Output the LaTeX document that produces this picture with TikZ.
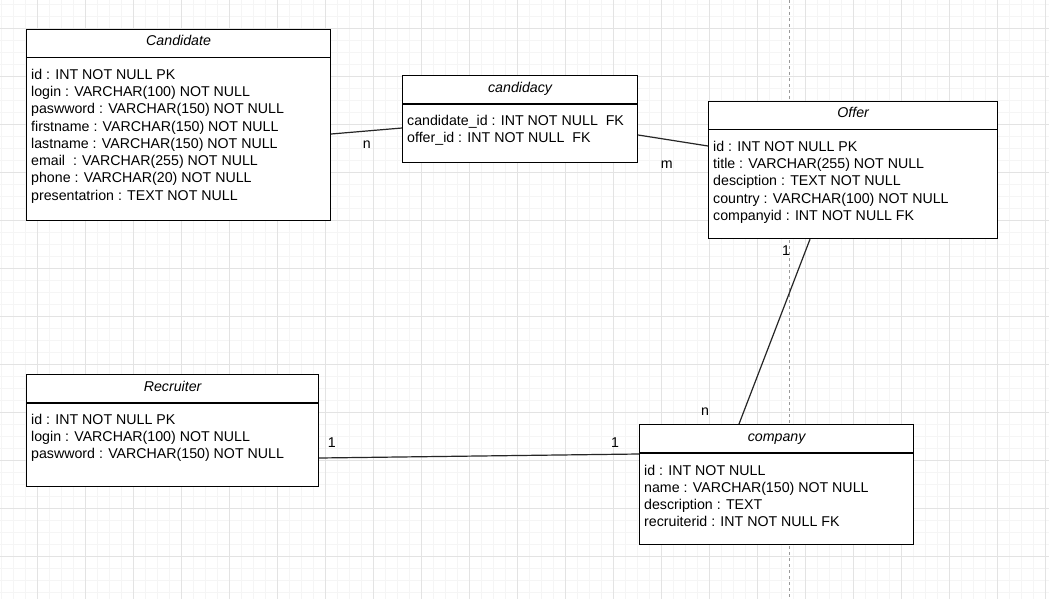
\documentclass[tikz,border=0pt]{standalone}
\usepackage{fontspec}
\setmainfont{Liberation Sans}
\usetikzlibrary{calc}
\begin{document}
\begin{tikzpicture}[x=1pt,y=-1pt,
  minorgrid/.style={draw=black!4,line width=0.7pt},
  majorgrid/.style={draw=black!11,line width=0.7pt},
  pageline/.style={draw=black!40,line width=0.8pt,dash pattern=on 3pt off 3pt},
  entity/.style={draw=black,fill=white,line width=1.2pt,rectangle,inner sep=0pt,anchor=north west},
  divider/.style={draw=black,line width=1.1pt},
  title/.style={font=\fontsize{14.2}{17}\selectfont\itshape,anchor=base,inner sep=0pt},
  field/.style={font=\fontsize{14.2}{17}\selectfont,anchor=base west,inner sep=0pt},
  card/.style={font=\fontsize{14.2}{17}\selectfont,inner sep=0pt},
  link/.style={draw=black!85,line width=1.2pt}]

% canvas and background grid
\useasboundingbox (0,0) rectangle (1049,599);
\fill[white] (0,0) rectangle (1049,599);
\foreach \x in {1,13,...,1049} \draw[minorgrid] (\x,0) -- (\x,599);
\foreach \y in {4,16,...,599} \draw[minorgrid] (0,\y) -- (1049,\y);
\foreach \x in {37,85,...,1049} \draw[majorgrid] (\x,0) -- (\x,599);
\foreach \y in {28,76,...,599} \draw[majorgrid] (0,\y) -- (1049,\y);
\draw[pageline] (789,0) -- (789,599);

% Candidate
\node[entity,minimum width=304pt,minimum height=191pt] (cand) at (26,29) {};
\draw[divider] ($(cand.north west)+(0,28.5)$) -- ($(cand.north east)+(0,28.5)$);
\node[title] (cand-title) at ($(cand.north)+(0,17)$) {Candidate};
\foreach \t [count=\i from 0] in {id : INT NOT NULL PK,
    login : VARCHAR(100) NOT NULL,
    paswword : VARCHAR(150) NOT NULL,
    firstname : VARCHAR(150) NOT NULL,
    lastname : VARCHAR(150) NOT NULL,
    email~ : VARCHAR(255) NOT NULL,
    phone : VARCHAR(20) NOT NULL,
    presentatrion : TEXT NOT NULL}
  \node[field] (cand-f\i) at ($(cand.north west)+(5,{50.3+17.25*\i})$) {\t};

% candidacy
\node[entity,minimum width=235pt,minimum height=87pt] (candy) at (402,75) {};
\draw[divider] ($(candy.north west)+(0,29)$) -- ($(candy.north east)+(0,29)$);
\node[title] (candy-title) at ($(candy.north)+(0,17.5)$) {candidacy};
\foreach \t [count=\i from 0] in {candidate\_id : INT NOT NULL~~FK,
    offer\_id : INT NOT NULL~~FK}
  \node[field] (candy-f\i) at ($(candy.north west)+(5,{50.3+17.25*\i})$) {\t};

% Offer
\node[entity,minimum width=289pt,minimum height=137pt] (offer) at (708,101) {};
\draw[divider] ($(offer.north west)+(0,28.5)$) -- ($(offer.north east)+(0,28.5)$);
\node[title] (offer-title) at ($(offer.north)+(0,17)$) {Offer};
\foreach \t [count=\i from 0] in {id : INT NOT NULL PK,
    title : VARCHAR(255) NOT NULL,
    desciption : TEXT NOT NULL,
    country : VARCHAR(100) NOT NULL,
    companyid : INT NOT NULL FK}
  \node[field] (offer-f\i) at ($(offer.north west)+(5,{50.3+17.25*\i})$) {\t};

% Recruiter
\node[entity,minimum width=292pt,minimum height=112pt] (recr) at (26,374) {};
\draw[divider] ($(recr.north west)+(0,29)$) -- ($(recr.north east)+(0,29)$);
\node[title] (recr-title) at ($(recr.north)+(0,17.5)$) {Recruiter};
\foreach \t [count=\i from 0] in {id : INT NOT NULL PK,
    login : VARCHAR(100) NOT NULL,
    paswword : VARCHAR(150) NOT NULL}
  \node[field] (recr-f\i) at ($(recr.north west)+(5,{50.3+17.25*\i})$) {\t};

% company
\node[entity,minimum width=274pt,minimum height=120pt] (comp) at (639,424) {};
\draw[divider] ($(comp.north west)+(0,29)$) -- ($(comp.north east)+(0,29)$);
\node[title] (comp-title) at ($(comp.north)+(0,17.5)$) {company};
\foreach \t [count=\i from 0] in {id : INT NOT NULL,
    name : VARCHAR(150) NOT NULL,
    description : TEXT,
    recruiterid : INT NOT NULL FK}
  \node[field] (comp-f\i) at ($(comp.north west)+(5,{51+17.25*\i})$) {\t};

% relationships
\draw[link] ($(cand.north east)+(0,105)$) -- ($(candy.north west)+(0,53)$);
\draw[link] ($(candy.north east)+(0,60)$) -- ($(offer.north west)+(0,45)$);
\draw[link] ($(offer.south west)+(102,0)$) -- ($(comp.north west)+(100,0)$);
\draw[link] ($(recr.north east)+(0,84)$) -- ($(comp.north west)+(0,30)$);

% cardinalities
\node[card] (card-cand) at (366.7,145) {n};
\node[card] (card-offer) at (666.7,164.5) {m};
\node[card] (card-offer1) at (786,250.5) {1};
\node[card] (card-compn) at (705,411.5) {n};
\node[card] (card-recr) at (331.7,442.5) {1};
\node[card] (card-comp1) at (615,442.5) {1};
\end{tikzpicture}
\end{document}
